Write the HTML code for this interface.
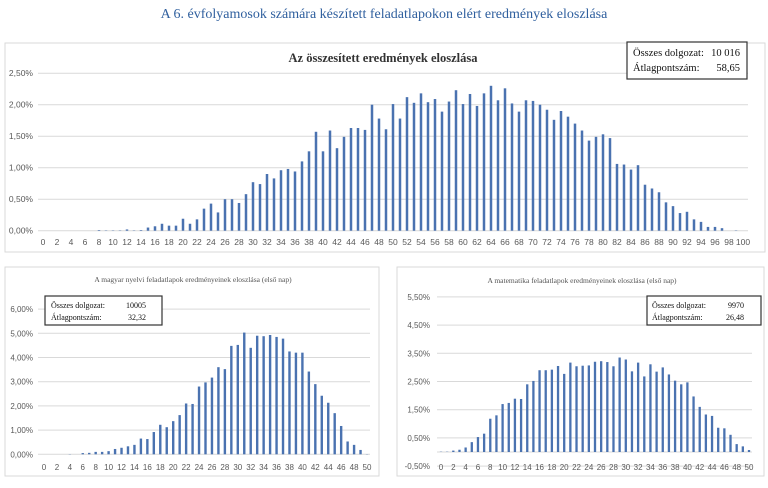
<!DOCTYPE html>
<html><head><meta charset="utf-8"><style>
body{margin:0;width:768px;height:483px;background:#fff;overflow:hidden;}
svg text{font-family:"Liberation Serif",serif;}
</style></head><body>
<svg id="s" width="768" height="483" xmlns="http://www.w3.org/2000/svg">
<text x="384" y="18" text-anchor="middle" font-size="14" fill="#2f5f9e">A 6. évfolyamosok számára készített feladatlapokon elért eredmények eloszlása</text>
</svg>
<script>
const totalValues=[0,0,0,0,0,0,0,0,0.01,0.005,0.005,0.005,0.02,0.005,0.01,0.05,0.07,0.11,0.08,0.08,0.19,0.11,0.18,0.35,0.43,0.29,0.50,0.50,0.44,0.58,0.77,0.74,0.90,0.83,0.96,0.98,0.94,1.10,1.26,1.57,1.26,1.59,1.31,1.49,1.63,1.63,1.60,2.00,1.78,1.61,2.01,1.78,2.12,2.03,2.18,2.04,2.09,1.89,2.05,2.23,2.01,2.17,1.98,2.18,2.30,2.07,2.26,2.02,1.89,2.07,2.06,2.00,1.92,1.76,1.90,1.81,1.70,1.59,1.43,1.49,1.53,1.47,1.06,1.05,0.97,1.04,0.73,0.67,0.61,0.45,0.39,0.28,0.30,0.18,0.14,0.06,0.06,0.04,0,0.005,0];
const hunValues=[0,0,0,0,0.01,0,0.05,0.06,0.1,0.1,0.13,0.22,0.27,0.33,0.39,0.65,0.63,0.92,1.22,1.12,1.37,1.62,2.1,2.08,2.8,2.97,3.17,3.6,3.52,4.48,4.52,5.03,4.4,4.9,4.88,4.93,4.85,4.78,4.25,4.2,4.2,3.42,2.9,2.42,2.13,1.7,1.17,0.53,0.39,0.18,0.01];
const mathValues=[0.01,0.01,0.05,0.08,0.16,0.35,0.53,0.65,1.18,1.3,1.7,1.74,1.89,1.88,2.4,2.52,2.9,2.9,2.92,3.05,2.77,3.17,3.04,3.06,3.07,3.2,3.22,3.19,3.04,3.35,3.28,2.86,3.17,2.68,3.11,2.85,3.0,2.75,2.53,2.4,2.47,1.97,1.6,1.33,1.28,0.86,0.84,0.61,0.28,0.2,0.07];
const totalTicks=[0,0.5,1,1.5,2,2.5];
const hunTicks=[0,1,2,3,4,5,6];
const mathTicks=[-0.5,0.5,1.5,2.5,3.5,4.5,5.5];

const NS="http://www.w3.org/2000/svg";
const svg=document.getElementById('s');
function mk(tag,attrs,parent){const e=document.createElementNS(NS,tag);for(const k in attrs)e.setAttribute(k,attrs[k]);(parent||svg).appendChild(e);return e;}
function fmt(v){return v.toFixed(2).replace('.',',')+'%';}

function chart(cfg){
  const g=mk('g',{});
  
  
  const p=mk('rect',{x:cfg.box[0],y:cfg.box[1],width:cfg.box[2],height:cfg.box[3],fill:'#fff',stroke:'#d9d9d9','stroke-width':1},g);
  
  
  const n=cfg.values.length;
  const xs=i=>cfg.x0+(cfg.x1-cfg.x0)*i/(n-1);
  const ys=v=>cfg.yZero-(v-0)*cfg.ppu;
  cfg.ticks.forEach(t=>{
    const l=mk('line',{x1:cfg.pl,x2:cfg.pr,y1:ys(t),y2:ys(t),stroke:'#d9d9d9','stroke-width':1},g);
    
    
    const tx=mk('text',{x:cfg.lx,y:ys(t)+3,'text-anchor':'end','font-size':cfg.fs,fill:'#595959'},g);
    
    
    tx.style.fontFamily='"Liberation Sans",sans-serif';
    tx.textContent=fmt(t);
  });
  if(cfg.zeroLine){
    const z=mk('line',{x1:cfg.pl,x2:cfg.pr,y1:ys(0),y2:ys(0),stroke:'#d9d9d9','stroke-width':1},g);
    
    
  }
  cfg.values.forEach((v,i)=>{
    const y=ys(Math.max(v,0)),h=Math.abs(ys(0)-ys(v));
    const b=mk('rect',{x:xs(i)-cfg.bw/2,y:y,width:cfg.bw,height:Math.max(h,0),fill:'#4a72b0'},g);
    
    
    if(i%2===0){
      const t=mk('text',{x:xs(i),y:cfg.xly,'text-anchor':'middle','font-size':cfg.fs,fill:'#595959'},g);
      
      
      t.style.fontFamily='"Liberation Sans",sans-serif';
      t.textContent=i;
    }
  });
  const ti=mk('text',{x:cfg.title[1],y:cfg.title[2],'text-anchor':'middle','font-size':cfg.title[3],fill:cfg.title[4],'font-weight':cfg.title[5]},g);
  
  
  ti.textContent=cfg.title[0];
  const lb=cfg.legend;
  const lg=mk('g',{},g);
  
  
  mk('rect',{x:lb.x,y:lb.y,width:lb.w,height:lb.h,fill:'#fff',stroke:'#333','stroke-width':1.2},lg);
  const t1=mk('text',{x:lb.x+lb.pad,y:lb.y+lb.l1,'font-size':lb.fs,fill:'#111'},lg);
  
  
  t1.textContent='Összes dolgozat:';
  const v1=mk('text',{x:lb.vx,y:lb.y+lb.l1,'font-size':lb.fs,fill:'#111','text-anchor':'end'},lg);
  
  
  v1.textContent=lb.v1;
  const t2=mk('text',{x:lb.x+lb.pad,y:lb.y+lb.l2,'font-size':lb.fs,fill:'#111'},lg);
  
  
  t2.textContent='Átlagpontszám:';
  const v2=mk('text',{x:lb.vx,y:lb.y+lb.l2,'font-size':lb.fs,fill:'#111','text-anchor':'end'},lg);
  
  
  v2.textContent=lb.v2;
}

chart({name:'overall-distribution-chart',values:totalValues,ticks:totalTicks,box:[5,43,760,209],
  x0:43,x1:743,pl:38,pr:748,yZero:230.7,ppu:63,bw:2.5,lx:33,xly:245,fs:8.5,
  title:['Az összesített eredmények eloszlása',383,62,12.5,'#333','bold'],
  legend:{x:627,y:42,w:120,h:37,pad:6,l1:14,l2:29,fs:10.5,vx:740,v1:'10 016',v2:'58,65'}});
chart({name:'hungarian-distribution-chart',values:hunValues,ticks:hunTicks,box:[5,267,374,209],
  x0:44,x1:367,pl:38,pr:370,yZero:454.3,ppu:24.2,bw:2.4,lx:33,xly:470,fs:8,
  title:['A magyar nyelvi feladatlapok eredményeinek eloszlása (első nap)',193,282,7.5,'#555','normal'],
  legend:{x:45,y:296,w:117,h:29,pad:6,l1:12,l2:24,fs:8,vx:146,v1:'10005',v2:'32,32'}});
chart({name:'math-distribution-chart',values:mathValues,ticks:mathTicks,box:[397,267,367,209],
  x0:441,x1:749,pl:437,pr:752,yZero:452,ppu:28.2,bw:2.3,lx:430,xly:470,fs:8,zeroLine:true,
  title:['A matematika feladatlapok eredményeinek eloszlása (első nap)',582,283,7.5,'#555','normal'],
  legend:{x:647,y:296,w:114,h:29,pad:5,l1:12,l2:24,fs:8,vx:744,v1:'9970',v2:'26,48'}});
</script>
</body></html>
